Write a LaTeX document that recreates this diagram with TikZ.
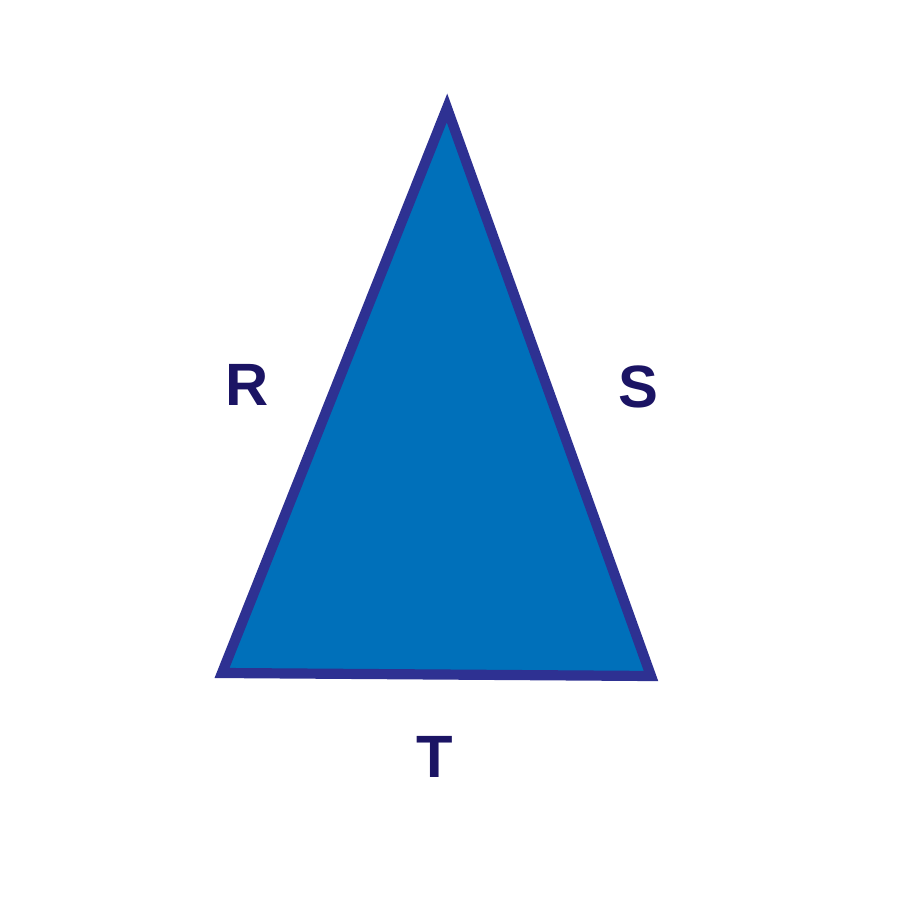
\documentclass[tikz,border=0pt]{standalone}
\usepackage{fontspec}
\setmainfont{Liberation Sans}
\definecolor{trifill}{HTML}{0070BA}
\definecolor{triedge}{HTML}{2E3192}
\definecolor{labelcol}{HTML}{1B1464}
\begin{document}
\begin{tikzpicture}[side/.style={text=labelcol,font=\bfseries\fontsize{17}{19}\selectfont,inner sep=0}]
\useasboundingbox (0,0) rectangle (9,9);
\coordinate (top) at (4.47,7.92);
\coordinate (bl) at (2.22,2.27);
\coordinate (br) at (6.51,2.24);
\draw [fill=trifill,draw=triedge,line width=2.9pt,line join=miter] (top) -- (br) -- (bl) -- cycle;
\node [side] (r) at (2.47,5.15) {R};
\node [side] (s) at (6.38,5.13) {S};
\node [side] (t) at (4.35,1.43) {T};
\end{tikzpicture}
\end{document}
